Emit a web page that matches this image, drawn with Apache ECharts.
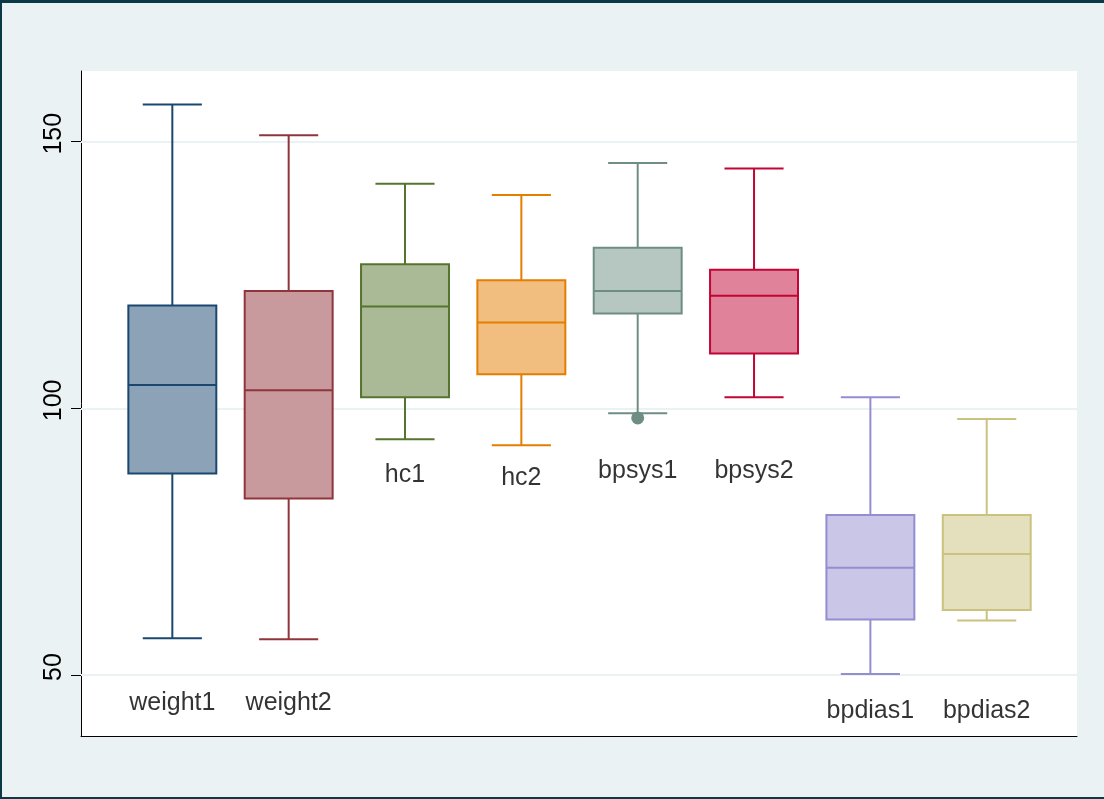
<!DOCTYPE html>
<html>
<head>
<meta charset="utf-8">
<title>Box plots: weight, hc, bpsys, bpdias</title>
<script src="https://cdn.jsdelivr.net/npm/echarts@6/dist/echarts.min.js"></script>
<style>
  html, body { margin: 0; padding: 0; background: #eaf2f3; }
  #chart { width: 1104px; height: 799px; }
</style>
</head>
<body>
<div id="chart"></div>
<script>
// Variables, in drawing order
const categories = ['weight1', 'weight2', 'hc1', 'hc2', 'bpsys1', 'bpsys2', 'bpdias1', 'bpdias2'];

// Five-number summaries (adjacent values, quartiles, median)
const lowerWhisker = [56.9, 56.7, 94.2, 93.1, 99.1, 102.1, 50.2, 60.2];
const q1           = [87.8, 83.1, 102.1, 106.4, 117.8, 110.3, 60.4, 62.2];
const median       = [104.4, 103.4, 119.1, 116.1, 122.0, 121.1, 70.1, 72.7];
const q3           = [119.3, 122.0, 127.0, 124.0, 130.1, 126.0, 80.0, 80.0];
const upperWhisker = [157.0, 151.2, 142.1, 140.0, 146.0, 145.0, 102.1, 98.0];

// Outside values: [variable index, value]
const outliers = [[4, 98.2]];

// Y axis ticks
const yTicks = [50, 100, 150];

// Where each variable's name sits (y value)
const labelAt = [44.8, 44.8, 87.4, 87.0, 88.3, 88.3, 43.2, 43.2];

// s2color line colours and their 50% fills
const lineColors = ['#1a476f', '#90353b', '#55752f', '#e37e00', '#6e8e84', '#c10534', '#938dd2', '#cac27e'];
const fillColors = ['#8ca3b7', '#c89a9d', '#aaba97', '#f1be80', '#b6c6c1', '#e0829a', '#c9c6e8', '#e4e0be'];

const FONT = '"Liberation Sans", Arial, Helvetica, sans-serif';

const boxData = categories.map((c, i) => [i + 1, lowerWhisker[i], q1[i], median[i], q3[i], upperWhisker[i]]);

function renderBox(params, api) {
  const i = params.dataIndex;
  const x = api.value(0);
  const unit = api.size([1, 0])[0];
  const halfBox = unit * 0.378;
  const halfCap = unit * 0.254;
  const pLow = api.coord([x, api.value(1)]);
  const pQ1 = api.coord([x, api.value(2)]);
  const pMed = api.coord([x, api.value(3)]);
  const pQ3 = api.coord([x, api.value(4)]);
  const pHigh = api.coord([x, api.value(5)]);
  const cx = pMed[0];
  const stroke = { stroke: lineColors[i], lineWidth: 2 };
  return {
    type: 'group',
    children: [
      { type: 'line', shape: { x1: cx, y1: pQ3[1], x2: cx, y2: pHigh[1] }, style: stroke },
      { type: 'line', shape: { x1: cx, y1: pQ1[1], x2: cx, y2: pLow[1] }, style: stroke },
      { type: 'line', shape: { x1: cx - halfCap, y1: pHigh[1], x2: cx + halfCap, y2: pHigh[1] }, style: stroke },
      { type: 'line', shape: { x1: cx - halfCap, y1: pLow[1], x2: cx + halfCap, y2: pLow[1] }, style: stroke },
      {
        type: 'rect',
        shape: { x: cx - halfBox, y: pQ3[1], width: halfBox * 2, height: pQ1[1] - pQ3[1] },
        style: { fill: fillColors[i], stroke: lineColors[i], lineWidth: 2 }
      },
      { type: 'line', shape: { x1: cx - halfBox, y1: pMed[1], x2: cx + halfBox, y2: pMed[1] }, style: stroke }
    ]
  };
}

const chart = echarts.init(document.getElementById('chart'), null, { renderer: 'canvas' });

chart.setOption({
  backgroundColor: '#eaf2f3',
  animation: false,
  textStyle: { fontFamily: FONT },
  grid: {
    left: 81, right: 27, top: 71, bottom: 63,
    show: true, backgroundColor: '#ffffff', borderWidth: 0
  },
  xAxis: {
    type: 'value',
    min: 0.215, max: 8.776,
    axisLine: { show: true, onZero: false, lineStyle: { color: '#000', width: 1 } },
    axisTick: { show: false },
    axisLabel: { show: false },
    splitLine: { show: false }
  },
  yAxis: {
    type: 'value',
    min: 38.56, max: 163.26,
    axisLine: { show: true, lineStyle: { color: '#000', width: 1 } },
    axisTick: { show: true, length: 10, customValues: yTicks, lineStyle: { color: '#000', width: 1 } },
    axisLabel: {
      show: true, customValues: yTicks, rotate: 90, margin: 14,
      fontSize: 25, color: '#000000', fontFamily: FONT,
      padding: [0, 0, 0, 16]
    },
    splitLine: { show: false }
  },
  graphic: [
    { type: 'rect', shape: { x: 0, y: 0, width: 1104, height: 3 }, style: { fill: '#0b3a46' }, z: 100 },
    { type: 'rect', shape: { x: 0, y: 0, width: 2, height: 799 }, style: { fill: '#0b3a46' }, z: 100 },
    { type: 'rect', shape: { x: 0, y: 797, width: 1104, height: 2 }, style: { fill: '#0b3a46' }, z: 100 }
  ],
  series: [
    {
      name: 'grid',
      type: 'line',
      data: [],
      z: 1,
      silent: true,
      markLine: {
        z: 1,
        silent: true,
        symbol: 'none',
        label: { show: false },
        lineStyle: { color: '#eaf2f3', width: 2, type: 'solid' },
        data: yTicks.map(v => ({ yAxis: v }))
      }
    },
    {
      name: 'boxes',
      type: 'custom',
      z: 3,
      renderItem: renderBox,
      encode: { x: 0, y: [1, 2, 3, 4, 5] },
      data: boxData
    },
    {
      name: 'outside values',
      type: 'scatter',
      z: 4,
      symbol: 'circle',
      symbolSize: 13,
      itemStyle: { opacity: 1 },
      data: outliers.map(o => ({ value: [o[0] + 1, o[1]], itemStyle: { color: lineColors[o[0]], opacity: 1 } }))
    },
    {
      name: 'names',
      type: 'scatter',
      z: 5,
      symbolSize: 0,
      silent: true,
      label: {
        show: true, position: 'inside',
        formatter: p => categories[p.dataIndex],
        fontSize: 25, color: '#000000', fontFamily: FONT
      },
      data: categories.map((c, i) => [i + 1, labelAt[i]])
    }
  ]
});
</script>
</body>
</html>
